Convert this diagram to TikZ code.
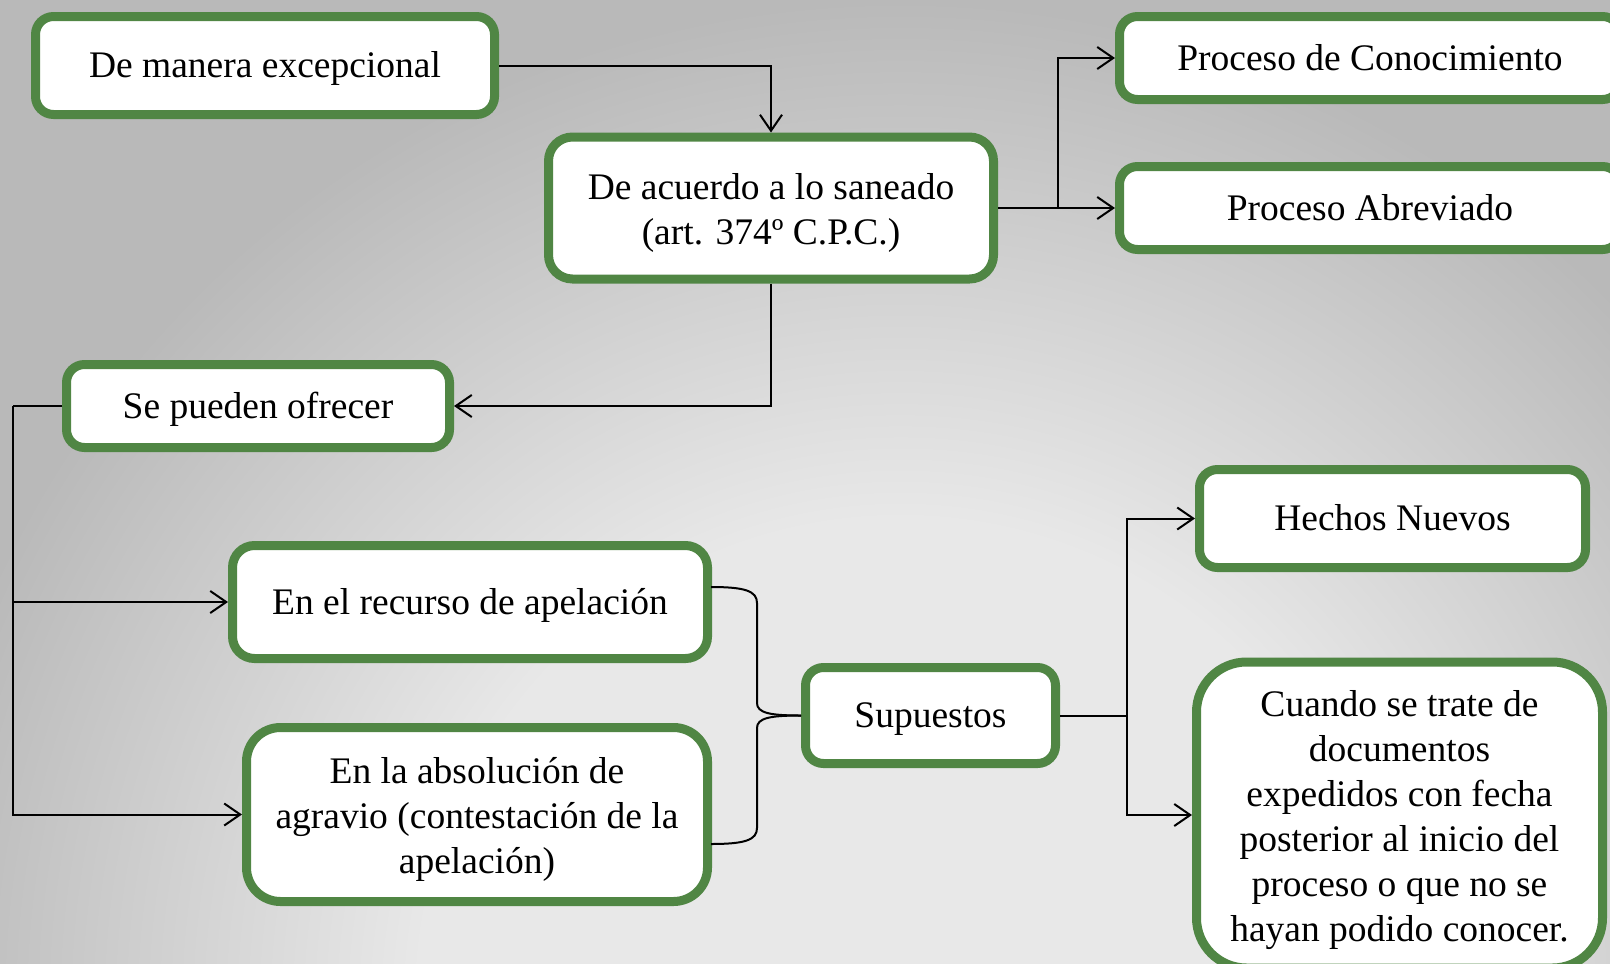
\documentclass[tikz,border=0pt]{standalone}
\usepackage{fontspec}
\setmainfont{Liberation Serif}
\usepackage{tikz}
\usetikzlibrary{arrows.meta, positioning, calc}
\usepackage{xcolor}

\definecolor{verde}{RGB}{80,134,68}
\definecolor{fondoclaro}{HTML}{E8E8E8}
\definecolor{fondooscuro}{HTML}{B9B9B9}
\pgfdeclareradialshading{fondo}{\pgfpoint{0bp}{0bp}}{color(0bp)=(fondoclaro); color(12bp)=(fondoclaro); color(25bp)=(fondooscuro); color(50bp)=(fondooscuro)}

\tikzset{
	caja/.style={draw=verde, line width=9pt, fill=white, rounded corners=18pt,
		inner sep=0pt, align=center, font=\fontsize{37.5}{45}\selectfont,
		text height=36pt, text depth=12pt},
	varias/.style={text height=#1},
	linea/.style={draw=black, line width=2pt},
	flecha/.style={linea, -{Straight Barb[length=16pt, width=22pt, line width=2pt]}}
}

\begin{document}
\begin{tikzpicture}[x=1pt, y=-1pt]
	\path[use as bounding box, clip] (0,0) rectangle (1610,964);
	\shade[shading=fondo] (-100,0) rectangle (1900,2000);

	% cajas
	\node[caja, minimum width=459pt, minimum height=98pt] (manera) at (265,65.5) {De manera excepcional};
	\node[caja, varias=85pt, minimum width=445pt, minimum height=142pt, rounded corners=24pt] (saneado) at (771,208) {De acuerdo a lo saneado\\(art. 374º C.P.C.)};
	\node[caja, minimum width=501pt, minimum height=83pt] (conoc) at (1370,58) {Proceso de Conocimiento};
	\node[caja, minimum width=501pt, minimum height=83pt] (abrev) at (1370,208) {Proceso Abreviado};
	\node[caja, minimum width=383pt, minimum height=83pt] (ofrecer) at (258,406) {Se pueden ofrecer};
	\node[caja, minimum width=475pt, minimum height=113pt, rounded corners=22pt] (recurso) at (470,602) {En el recurso de apelación};
	\node[caja, varias=129pt, minimum width=461pt, minimum height=174pt, rounded corners=34pt] (absol) at (477,814.5) {En la absolución de\\agravio (contestación de la\\apelación)};
	\node[caja, minimum width=250pt, minimum height=96pt] (supuestos) at (930.5,715.5) {Supuestos};
	\node[caja, minimum width=386pt, minimum height=98pt] (hechos) at (1392.5,518.5) {Hechos Nuevos};
	\node[caja, varias=265pt, minimum width=406pt, minimum height=306pt, rounded corners=50pt] (cuando) at (1399.5,815) {Cuando se trate de\\documentos\\expedidos con fecha\\posterior al inicio del\\proceso o que no se\\hayan podido conocer.};

	% uniones
	\coordinate (j1) at (1058,208);
	\coordinate (j2) at (13,406);
	\coordinate (j3) at (1127,715.5);
	\coordinate (bA) at (711,587);
	\coordinate (bB) at (711,844);

	% conectores
	\draw[flecha] (manera.east) -| (saneado.north);
	\draw[flecha] (saneado.east) -- (abrev.west);
	\draw[flecha] (j1) |- (conoc.west);
	\draw[flecha] (saneado.south) |- (ofrecer.east);
	\draw[linea] (ofrecer.west) -- (j2);
	\draw[flecha] (j2) |- (absol.west);
	\draw[flecha] (j2 |- recurso.west) -- (recurso.west);
	\draw[linea] (supuestos.east) -- (j3);
	\draw[flecha] (j3) |- (hechos.west);
	\draw[flecha] (j3) |- (cuando.west);

	% llave
	\draw[linea] (bA) .. controls (745,587) and (757,591) .. (757,603) -- (757,703)
		.. controls (757,713) and (770,715.5) .. (supuestos.west);
	\draw[linea] (bB) .. controls (745,844) and (757,840) .. (757,828) -- (757,728)
		.. controls (757,718) and (770,715.5) .. (supuestos.west);
\end{tikzpicture}
\end{document}
